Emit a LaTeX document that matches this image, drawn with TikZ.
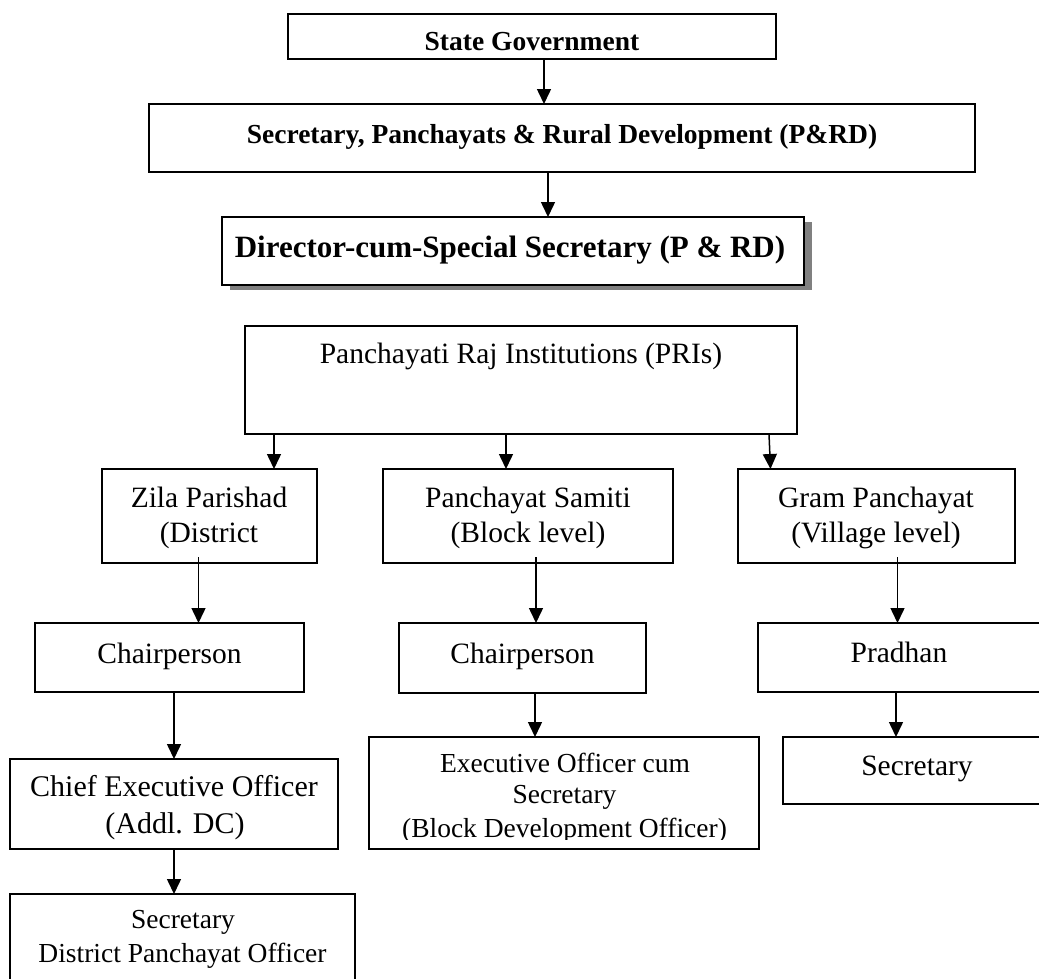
\documentclass[tikz,border=0pt]{standalone}
\usepackage{fontspec}
\setmainfont{Liberation Serif}
\usetikzlibrary{arrows.meta}
\tikzset{
  box/.style={draw=black, line width=1.5pt, inner sep=0pt, outer sep=0pt, fill=white},
  arr/.style={line width=1.5pt, -{Triangle[length=15pt,width=14pt]}},
  lbl/.style={anchor=base, inner sep=0pt, font=\fontsize{29.5pt}{35pt}\selectfont},
  lblsm/.style={anchor=base, inner sep=0pt, font=\fontsize{27.5pt}{33pt}\selectfont},
  lblb/.style={anchor=base, inner sep=0pt, font=\fontsize{27.5pt}{33pt}\selectfont\bfseries},
  shadowfill/.style={fill=black!50, draw=none}
}
\newcommand\mkbox[6][]{\node[box,#1, minimum width={#5pt-#3pt}, minimum height={#6pt-#4pt}] (#2) at ({(#3+#5)/2},{(#4+#6)/2}) {};}
\begin{document}
\begin{tikzpicture}[x=1pt,y=-1pt]
\useasboundingbox (0,0) rectangle (1039,978);
\clip (0,0) rectangle (1039,978);

% top chain
\mkbox{sg}{288}{14}{776}{59}
\mkbox{sec}{149}{104}{975}{172}
\fill[shadowfill] (230,222) rectangle (812,290);
\mkbox{dir}{222}{217}{804}{285}

% PRI level
\mkbox{pri}{245}{326}{797}{434}
\mkbox{zila}{102}{469}{317}{563}
\mkbox{ps}{383}{469}{673}{563}
\mkbox{gp}{738}{469}{1015}{563}

% chair level
\mkbox{chA}{35}{623}{304}{692}
\mkbox{chB}{399}{623}{646}{693}
\mkbox{pr}{758}{623}{1040}{692}

% officer level
\mkbox{ceo}{10}{759}{338}{849}
\mkbox{eo}{369}{737}{759}{849}
\mkbox{secB}{783}{737}{1051}{804}
\mkbox{dpo}{10}{894}{355}{990}

% texts
\node[lblb] (tsg) at (532,50) {State Government};
\node[lblb] (tsec) at (562,143) {Secretary, Panchayats \& Rural Development (P\&RD)};
\node[lblb, font=\fontsize{31pt}{37pt}\selectfont\bfseries] (tdir) at (510,257) {Director-cum-Special Secretary (P \& RD)};
\node[lbl] (tpri) at (521,363) {Panchayati Raj Institutions (PRIs)};
\node[lbl] (tz1) at (209,507) {Zila Parishad};
\node[lbl] (tz2) at (209,542) {(District};
\node[lbl] (tp1) at (528,507) {Panchayat Samiti};
\node[lbl] (tp2) at (528,542) {(Block level)};
\node[lbl] (tg1) at (876,507) {Gram Panchayat};
\node[lbl] (tg2) at (876,542) {(Village level)};
\node[lbl] (tcA) at (169.5,663) {Chairperson};
\node[lbl] (tcB) at (522.5,663) {Chairperson};
\node[lbl] (tpr) at (899,662) {Pradhan};
\node[lbl, font=\fontsize{30pt}{36pt}\selectfont] (tce1) at (174,796) {Chief Executive Officer};
\node[lbl, font=\fontsize{30pt}{36pt}\selectfont] (tce2) at (175,833) {(Addl. DC)};
\begin{scope}
  \clip (369,737) rectangle (759,839);
  \node[lblsm] (te1) at (565,772) {Executive Officer cum};
  \node[lblsm] (te2) at (564.5,803) {Secretary};
  \node[lblsm] (te3) at (564.5,837) {(Block Development Officer)};
\end{scope}
\node[lbl] (tsB) at (917,775) {Secretary};
\node[lblsm] (td1) at (183,928) {Secretary};
\node[lblsm] (td2) at (182.5,962) {District Panchayat Officer};

% connectors
\draw[arr] ([xshift=12pt]sg.south) -- ([xshift=-18pt]sec.north);
\draw[arr] ([xshift=-14pt]sec.south) -- ([xshift=35pt]dir.north);
\draw[arr] ([xshift=-247pt]pri.south) -- ([xshift=64.5pt]zila.north);
\draw[arr] ([xshift=-15pt]pri.south) -- ([xshift=-22pt]ps.north);
\draw[arr] ([xshift=248pt]pri.south) -- ([xshift=-106pt]gp.north);
\draw[arr] ([xshift=-11pt,yshift=6pt]zila.south) -- ([xshift=29pt]chA.north);
\draw[arr] ([xshift=8pt,yshift=6pt]ps.south) -- ([xshift=13.5pt]chB.north);
\draw[arr] ([xshift=21pt,yshift=6pt]gp.south) -- ([xshift=-1.5pt]pr.north);
\draw[arr] ([xshift=4.5pt]chA.south) -- (ceo.north);
\draw[arr] ([xshift=12.5pt]chB.south) -- ([xshift=-29pt]eo.north);
\draw[arr] ([xshift=-3pt]pr.south) -- ([xshift=-21pt]secB.north);
\draw[arr] (ceo.south) -- ([xshift=-8.5pt]dpo.north);
\end{tikzpicture}
\end{document}
